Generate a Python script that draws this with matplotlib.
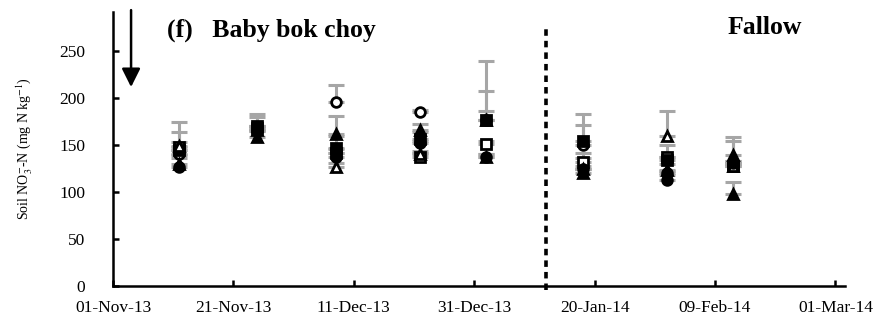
import numpy as np
import pandas as pd
import matplotlib
matplotlib.use("Agg")
import matplotlib.pyplot as plt
import matplotlib.dates as mdates

plt.rcParams['font.family'] = ['Liberation Serif', 'DejaVu Serif']
plt.rcParams['mathtext.fontset'] = 'stix'

# Datas de amostragem
datas = pd.to_datetime(['2013-11-12', '2013-11-25', '2013-12-08', '2013-12-22',
                        '2014-01-02', '2014-01-18', '2014-02-01', '2014-02-12'])

# Valores médios (mg N kg-1) e erro (só para cima)
open_sq = [148, 168, 142, 138, 151, 132, 137, 128]
open_sq_err = [5, 12, 4, 4, 3, 10, 13, 3]
open_circ = [141, 167, 196, 185, 177, 150, 120, 130]
open_circ_err = [4, 3, 18, 3, 9, 22, 3, 3]
open_tri = [149, 166, 127, 141, 138, 125, 160, 128]
open_tri_err = [26, 4, 4, 3, 3, 3, 26, 3]
filled_sq = [145, 170, 147, 157, 177, 155, 134, 128]
filled_sq_err = [19, 13, 13, 7, 63, 28, 4, 5]
filled_circ = [127, 165, 137, 152, 137, 125, 113, 131]
filled_circ_err = [13, 5, 5, 3, 4, 11, 5, 23]
filled_tri = [130, 159, 162, 166, 177, 120, 124, 98]
filled_tri_err = [6, 6, 19, 7, 31, 5, 6, 13]
extra_tri = [None, None, None, None, None, None, None, 140]  # triângulo cheio extra em fev
extra_tri_err = [0, 0, 0, 0, 0, 0, 0, 19]

x_ticks = pd.date_range('2013-11-01', periods=7, freq='20D')
inicio_pousio = pd.Timestamp('2014-01-12')
seta_data = pd.Timestamp('2013-11-04')

series = [
    (open_sq, open_sq_err, 's', 'white'),
    (open_circ, open_circ_err, 'o', 'white'),
    (filled_sq, filled_sq_err, 's', 'black'),
    (open_tri, open_tri_err, '^', 'white'),
    (extra_tri, extra_tri_err, '^', 'black'),
    (filled_circ, filled_circ_err, 'o', 'black'),
    (filled_tri, filled_tri_err, '^', 'black'),
]

fig = plt.figure(figsize=(8.92, 3.19), dpi=100)
ax = fig.add_axes([113 / 892, 1 - 286 / 319, (845 - 113) / 892, (286 - 12) / 319])

for k, (vals, err, mk, fc) in enumerate(series):
    vals = np.array([np.nan if v is None else v for v in vals], dtype=float)
    err = np.array(err, dtype=float)
    ax.errorbar(datas, vals, yerr=[np.zeros_like(err), err], fmt='none',
                ecolor='#a6a6a6', elinewidth=2.2, capsize=6, capthick=2.2, zorder=2)
    ax.plot(datas, vals, linestyle='none', marker=mk, markersize=7,
            markerfacecolor=fc, markeredgecolor='black', markeredgewidth=2,
            zorder=3 + k)

ax.set_xlim(pd.Timestamp('2013-11-01'), pd.Timestamp('2014-03-02 14:00'))
ax.set_ylim(0, 292)
ax.set_xticks(x_ticks)
ax.xaxis.set_major_formatter(mdates.DateFormatter('%d-%b-%y'))
ax.set_yticks(np.arange(0, 251, 50))

for s in ['top', 'right']:
    ax.spines[s].set_visible(False)
for s in ['left', 'bottom']:
    ax.spines[s].set_linewidth(1.8)
ax.tick_params(direction='in', length=4, width=1.8, labelsize=12.5)
ax.tick_params(axis='x', pad=10)
ax.tick_params(axis='y', pad=20)

ax.set_ylabel('Soil NO$_3^{-}$-N (mg N kg$^{-1}$)', fontsize=10, labelpad=18)

# Linha do início do pousio
ax.plot([inicio_pousio, inicio_pousio], [-4, 275], color='black', lw=2.6,
        linestyle=(0, (1.8, 1.4)), clip_on=False, zorder=1)

# Seta de aplicação
ax.annotate('', xy=(seta_data, 212), xytext=(seta_data, 294),
            arrowprops=dict(arrowstyle='-|>', color='black', lw=1.8,
                            mutation_scale=28, shrinkA=0, shrinkB=0),
            annotation_clip=False)

ax.text(pd.Timestamp('2013-11-10'), 272, '(f)   Baby bok choy', fontsize=18.5,
        fontweight='bold', va='center', ha='left')
ax.text(pd.Timestamp('2014-02-11'), 276, 'Fallow', fontsize=18.5,
        fontweight='bold', va='center', ha='left')

fig.savefig('out.png', dpi=100)
